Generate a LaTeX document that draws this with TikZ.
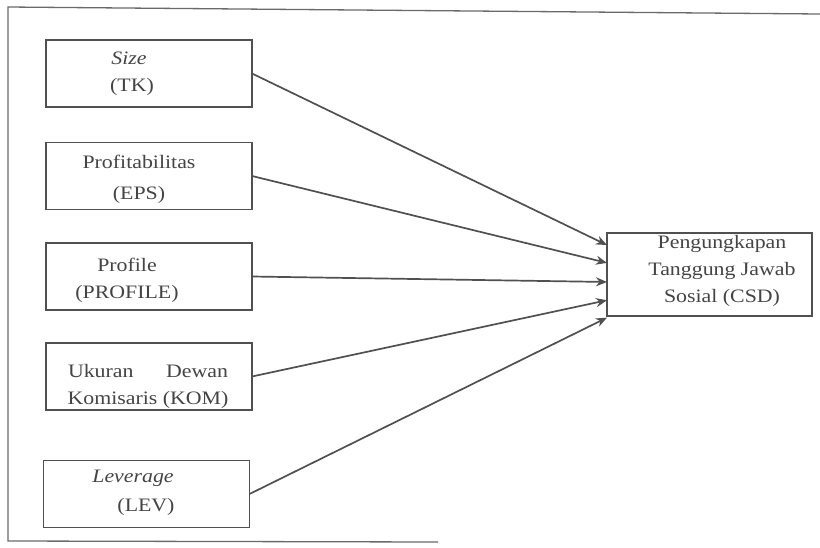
\documentclass[tikz,border=0pt]{standalone}
\usepackage{fontspec}
\setmainfont{Liberation Serif}[FakeStretch=1.15]
\usetikzlibrary{arrows.meta,calc}
\definecolor{inkline}{HTML}{505050}
\definecolor{inktext}{HTML}{444444}
\definecolor{frameline}{HTML}{6A6A6A}
\tikzset{
  varbox/.style={draw=inkline, line width=1.4pt, rectangle, outer sep=0pt, inner sep=0pt,
                 minimum width=206pt, minimum height=67pt},
  lbl/.style={text=inktext, align=center, inner sep=0pt,
              font=\fontsize{19}{27}\selectfont},
  link/.style={draw=inkline, line width=1.7pt, -{Stealth[length=11pt,width=9pt]}},
  frame/.style={draw=frameline, line width=1.3pt}
}
\begin{document}
\begin{tikzpicture}[x=1pt,y=-1pt]
\useasboundingbox (0,0) rectangle (820,547);
% frame
\coordinate (f1) at (8,7);
\coordinate (f2) at (820,14);
\coordinate (f3) at (8,541);
\coordinate (f4) at (438,542);
\draw[frame] (f2) -- (f1) -- (f3) -- (f4);
% boxes
\node[varbox] (tk)  at (149,73.5) {};
\node[varbox] (eps) at (149,176) {};
\node[varbox] (pro) at (149,276.5) {};
\node[varbox] (kom) at (149,376.5) {};
\node[varbox] (lev) at (146.5,494) {};
\node[varbox, minimum width=205pt, minimum height=83pt] (csd) at (709.5,274.5) {};
% labels
\node[lbl] (ttk)  at (129,74) {\itshape Size\\\hspace*{6pt}(TK)};
\node[lbl, font=\fontsize{19}{31}\selectfont] (teps) at (139,179) {Profitabilitas\\(EPS)};
\node[lbl] (tpro) at (127,280) {Profile\\(PROFILE)};
\node[lbl] (tkom) at (148,386) {\makebox[160pt]{Ukuran\hfill Dewan}\\Komisaris (KOM)};
\node[lbl, font=\fontsize{19}{29}\selectfont] (tlev) at (133,493) {{\itshape Leverage}\\\hspace*{26pt}(LEV)};
\node[lbl] (tcsd) at (722,271) {Pengungkapan\\Tanggung Jawab\\Sosial (CSD)};
% arrow ends on the west side of the dependent box
\coordinate (e1) at ($(csd.north west)!0.145!(csd.south west)$);
\coordinate (e2) at ($(csd.north west)!0.36!(csd.south west)$);
\coordinate (e3) at ($(csd.north west)!0.59!(csd.south west)$);
\coordinate (e4) at ($(csd.north west)!0.81!(csd.south west)$);
\coordinate (e5) at ($(csd.north west)!1.02!(csd.south west)$);
\draw[link] (tk.east) -- (e1);
\draw[link] (eps.east) -- (e2);
\draw[link] (pro.east) -- (e3);
\draw[link] (kom.east) -- (e4);
\draw[link] (lev.east) -- (e5);
\end{tikzpicture}
\end{document}
